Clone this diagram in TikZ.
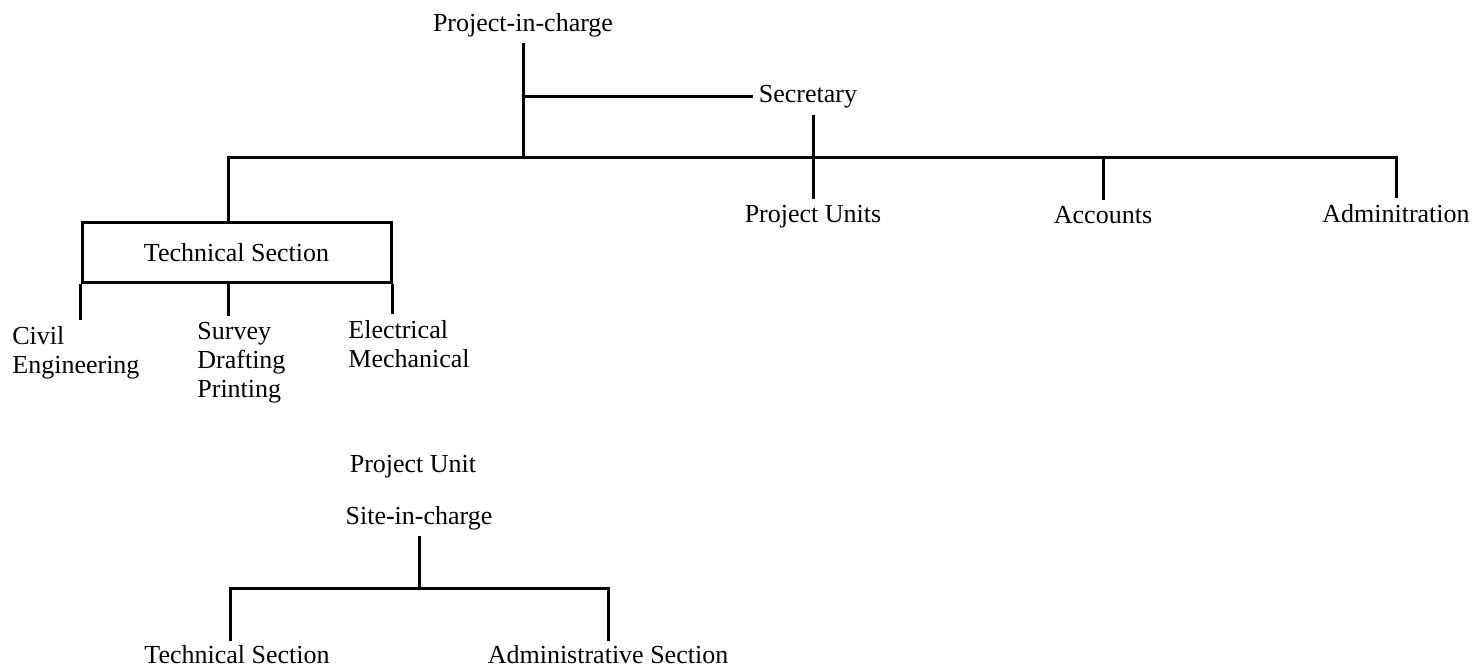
\documentclass[tikz,border=0pt]{standalone}
\usepackage{fontspec}
\setmainfont{Liberation Serif}
\usepackage{tikz}
\usetikzlibrary{calc}

\begin{document}
\begin{tikzpicture}[x=0.5pt, y=-0.5pt]
  \tikzset{
    lbl/.style={inner sep=3pt, font=\fontsize{13}{14.5}\selectfont},
    box/.style={draw, rectangle, line width=1.5pt, minimum width=154.5pt, minimum height=30pt, font=\fontsize{13}{14.5}\selectfont},
    child/.style={lbl, align=left, anchor=north west},
    foot/.style={lbl, inner ysep=0pt},
    line/.style={draw, line width=1.5pt, line join=miter}
  }
  \useasboundingbox (0,0) rectangle (1473,668);
  % project office
  \node [lbl] (pic) at (523,25) {Project-in-charge};
  \node [lbl] (sec) at (808,97) {Secretary};
  \coordinate (hub) at (523,158);
  \node [box] (ts) at (236.5,253) {Technical Section};
  \coordinate (tsmid) at (228,253);
  \node [lbl] (pu) at (813,217) {Project Units};
  \node [lbl] (acc) at (1103,215) {Accounts};
  \node [lbl] (adm) at (1396,214) {Adminitration};
  \node [child] (civ) at (6,320) {Civil\\Engineering};
  \node [child] (sdp) at (191,316) {Survey\\Drafting\\Printing};
  \node [child] (elm) at (342,314) {Electrical\\Mechanical};

  \path [line] (pic) -- (hub);
  \path [line] (pic.south |- sec) -- (sec);
  \path [line] (tsmid |- ts.north) |- (hub) -| (adm.north);
  \path [line] (pu |- sec.south) -- (pu);
  \path [line] (acc |- hub) -- (acc);
  \path [line] (ts.south west) -- (ts.south west |- civ.north);
  \path [line] (tsmid |- ts.south) -- (tsmid |- sdp.north);
  \path [line] (ts.south east) -- (ts.south east |- elm.north);

  % project unit
  \node [lbl] (unit) at (413,467) {Project Unit};
  \node [lbl] (sic) at (419,518) {Site-in-charge};
  \coordinate (split) at (419,588);
  \node [foot] (ts2) at (237,655) {Technical Section};
  \node [foot] (ads) at (608,655) {Administrative Section};

  \path [line] (sic) -- (split);
  \path [line] ([xshift=-3.5pt,yshift=2pt]ts2.north) |- (split) -| ([yshift=2pt]ads.north);
\end{tikzpicture}
\end{document}
